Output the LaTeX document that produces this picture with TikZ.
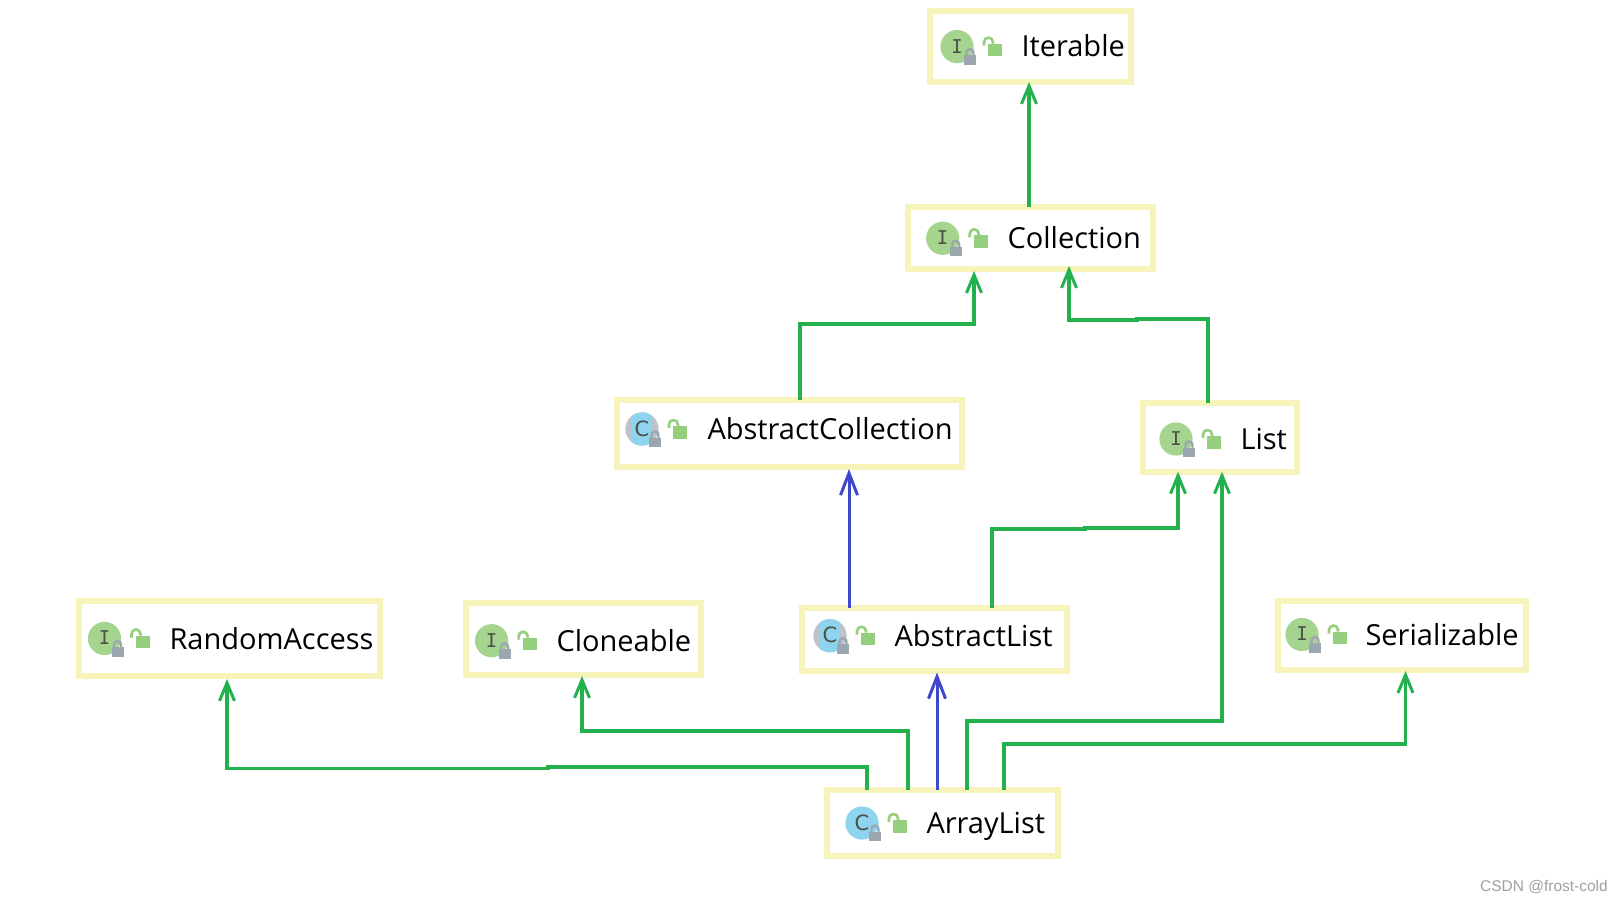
\documentclass[tikz,border=0pt]{standalone}
\usepackage{fontspec}
\setmainfont{Open Sans}
\newfontfamily\iconfont{DejaVu Sans Mono}
\newfontfamily\classfont{DejaVu Sans}
\newfontfamily\markfont{Liberation Sans}
\usetikzlibrary{arrows.meta}
\definecolor{boxedge}{HTML}{F6F4BA}
\definecolor{linkgreen}{HTML}{22B14C}
\definecolor{linkblue}{HTML}{3F48CC}
\definecolor{ifacefill}{HTML}{A5D48F}
\definecolor{classfill}{HTML}{8FD4EE}
\definecolor{ringgray}{HTML}{BDC3C8}
\definecolor{lockgray}{HTML}{9CA6AE}
\definecolor{lockgreen}{HTML}{95CE7C}
\definecolor{icontext}{HTML}{4A5048}
\definecolor{marktext}{HTML}{A0A0A0}
\tikzset{
  umlbox/.style={draw=boxedge,line width=6pt,fill=white,inner sep=0pt,outer sep=0pt},
  umllabel/.style={anchor=base west,inner sep=0pt,outer sep=0pt,font=\fontsize{29}{32}\selectfont,text=black},
  glink/.style={draw=linkgreen,line width=3.4pt,-{Straight Barb[length=18pt,width=15pt,line width=3pt]}},
  blink/.style={draw=linkblue,line width=3pt,-{Straight Barb[length=22pt,width=17pt,line width=3pt]}},
  iconglyph/.style={inner sep=0pt,text=icontext,font=\iconfont\fontsize{19}{20}\selectfont},
  classglyph/.style={inner sep=0pt,text=icontext,font=\classfont\fontsize{21}{22}\selectfont}
}
% common lock marks, relative to icon centre
\newcommand\lockmarks{%
  \fill[lockgray] (7,8.5) rectangle (19,18);
  \draw[lockgray,line width=2.4pt] (9.5,9) -- (9.5,6) arc[start angle=180,end angle=360,radius=3.5] -- (16.5,9);
  \fill[lockgreen] (31,-3) rectangle (45,9.5);
  \draw[lockgreen,line width=2.6pt] (27,-1) -- (27,-4.5) arc[start angle=180,end angle=360,radius=4.5] -- (36,-3);
}
\newcommand\ifaceicon[2]{\begin{scope}[shift={(#1,#2)}]
  \fill[ifacefill] (0,0) circle[radius=16.6];
  \node[iconglyph] at (0,-0.5) {I};
  \lockmarks
\end{scope}}
\newcommand\classicon[2]{\begin{scope}[shift={(#1,#2)}]
  \fill[classfill] (0,0) circle[radius=16.6];
  \node[classglyph] at (0,-0.5) {C};
  \lockmarks
\end{scope}}
\newcommand\absicon[2]{\begin{scope}[shift={(#1,#2)}]
  \fill[ringgray] (0,0) circle[radius=16.6];
  \begin{scope}
    \clip (0,0) circle[radius=16.6];
    \fill[classfill] (-10,-17) rectangle (10,17);
  \end{scope}
  \node[classglyph] at (0,-0.5) {C};
  \lockmarks
\end{scope}}
\begin{document}
\begin{tikzpicture}[x=1pt,y=-1pt]
\useasboundingbox (0,0) rectangle (1622,901);
% boxes: centre = outer centre, size = outer size - line width
\node[umlbox,minimum width=201pt,minimum height=71pt] (iterable) at (1030.5,46.5) {};
\node[umlbox,minimum width=245pt,minimum height=62pt] (collection) at (1030.5,238) {};
\node[umlbox,minimum width=345pt,minimum height=67pt] (abscoll) at (789.5,433.5) {};
\node[umlbox,minimum width=154.5pt,minimum height=68.5pt] (list) at (1220,437.5) {};
\node[umlbox,minimum width=265pt,minimum height=63pt] (abslist) at (934.5,639) {};
\node[umlbox,minimum width=231pt,minimum height=66pt] (arraylist) at (942.5,823) {};
\node[umlbox,minimum width=301pt,minimum height=75pt] (random) at (229.5,638.5) {};
\node[umlbox,minimum width=235pt,minimum height=72pt] (cloneable) at (583.5,639) {};
\node[umlbox,minimum width=248pt,minimum height=69pt] (serial) at (1402,635.5) {};
% icons
\ifaceicon{957}{46.6}
\ifaceicon{942.7}{238.3}
\absicon{642}{429}
\ifaceicon{1176}{439}
\absicon{830}{635.7}
\classicon{862}{823}
\ifaceicon{104.5}{638.5}
\ifaceicon{491.6}{640.7}
\ifaceicon{1302}{634.5}
% labels
\node[umllabel] (tIterable) at (1021.5,57) {Iterable};
\node[umllabel] (tCollection) at (1007.5,249) {Collection};
\node[umllabel] (tAbsColl) at (707.5,439) {AbstractCollection};
\node[umllabel] (tList) at (1240.5,449) {List};
\node[umllabel] (tAbsList) at (894.5,646) {AbstractList};
\node[umllabel] (tArrayList) at (926.5,833) {ArrayList};
\node[umllabel] (tRandom) at (169.5,649) {RandomAccess};
\node[umllabel] (tCloneable) at (556.5,651) {Cloneable};
\node[umllabel] (tSerial) at (1365.5,645) {Serializable};
\node[anchor=base east,inner sep=0pt,text=marktext,font=\markfont\fontsize{15.5}{17}\selectfont] (mark) at (1608,891) {CSDN @frost-cold};
% connectors
\draw[glink] (1029,0 |- collection.north) -- (1029,0 |- iterable.south);
\draw[glink] (800,0 |- abscoll.north) -- (800,324) -- (974,324) -- ([yshift=-2pt]974,0 |- collection.south);
\draw[glink] (1208,0 |- list.north) -- (1208,319) -- (1137,319) -- (1137,320) -- (1069,320) -- ([yshift=3pt]1069,0 |- collection.south);
\draw[blink] (849,0 |- abslist.north) -- ([yshift=-2pt]849,0 |- abscoll.south);
\draw[glink] (992,0 |- abslist.north) -- (992,529) -- (1085,529) -- (1085,528) -- (1178,528) -- (1178,0 |- list.south);
\draw[blink] (937,0 |- arraylist.north) -- ([yshift=-2pt]937,0 |- abslist.south);
\draw[glink] (967,0 |- arraylist.north) -- (967,721) -- (1222,721) -- (1222,0 |- list.south);
\draw[glink] (1004,0 |- arraylist.north) -- (1004,744) -- (1405.5,744) -- ([yshift=-1pt]1405.5,0 |- serial.south);
\draw[glink] (908,0 |- arraylist.north) -- (908,731) -- (582,731) -- ([yshift=-1pt]582,0 |- cloneable.south);
\draw[glink] (867,0 |- arraylist.north) -- (867,767) -- (548,767) -- (548,768.5) -- (227,768.5) -- ([yshift=-3pt]227,0 |- random.south);
\end{tikzpicture}
\end{document}
